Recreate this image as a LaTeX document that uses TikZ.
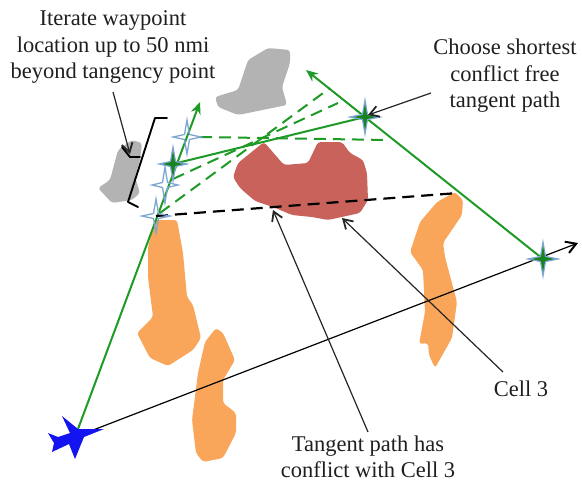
\documentclass[tikz,border=0pt]{standalone}
\usepackage{fontspec}
\setmainfont{Liberation Serif}
\usetikzlibrary{arrows.meta}
\definecolor{gblob}{HTML}{B3B3B3}
\definecolor{rblob}{HTML}{C8625A}
\definecolor{oblob}{HTML}{F9A55A}
\definecolor{pathgreen}{HTML}{1E9A26}
\definecolor{starblue}{HTML}{7FA6D2}
\definecolor{planeblue}{HTML}{1414F0}
\tikzset{
  x=1pt,y=-1pt,
  cellblob/.style={fill=#1,draw=none,rounded corners=3pt},
  greenline/.style={draw=pathgreen,line width=2pt},
  greenarrow/.style={greenline,-{Stealth[length=12pt,width=10pt]}},
  greendash/.style={draw=pathgreen,line width=2pt,dash pattern=on 12pt off 7pt},
  blackdash/.style={draw=black,line width=2.2pt,dash pattern=on 12pt off 7pt},
  callout/.style={draw=black!85,line width=1.2pt,-{Straight Barb[length=9pt,width=11pt,line width=1.8pt]}},
  labeltext/.style={font=\fontsize{22.5}{26.5}\selectfont,align=center,text=black!88,inner sep=0pt},
}
\newcommand{\fourstar}[4]{% centre x, y, half-width, half-height
  \path[draw=starblue,line width=1.3pt]
    (#1-#3,#2) -- (#1-2.5,#2-2.5) -- (#1,#2-#4) -- (#1+2.5,#2-2.5) -- (#1+#3,#2)
    -- (#1+2.5,#2+2.5) -- (#1,#2+#4) -- (#1-2.5,#2+2.5) -- cycle;}
\newcommand{\solidstar}[4]{%
  \path[fill=starblue,draw=starblue,line width=1.2pt]
    (#1-#3,#2) -- (#1-2.5,#2-2.5) -- (#1,#2-#4) -- (#1+2.5,#2-2.5) -- (#1+#3,#2)
    -- (#1+2.5,#2+2.5) -- (#1,#2+#4) -- (#1-2.5,#2+2.5) -- cycle;
  \path[fill=pathgreen!85!black]
    (#1-#3+4,#2) -- (#1-2,#2-2) -- (#1,#2-#4+4) -- (#1+2,#2-2) -- (#1+#3-4,#2)
    -- (#1+2,#2+2) -- (#1,#2+#4-4) -- (#1-2,#2+2) -- cycle;}
\begin{document}
\begin{tikzpicture}
\useasboundingbox (0,0) rectangle (582,485);
% weather cells
\path[cellblob=gblob] (268,48) -- (290,50) -- (290,63) -- (282,87) -- (287,105) -- (238,115) -- (218,107) -- (215,97) -- (238,90) -- (248,60) -- cycle;
\path[cellblob=gblob] (132,140) -- (142,143) -- (140,160) -- (135,177) -- (140,193) -- (132,200) -- (112,203) -- (98,188) -- (110,180) -- (118,150) -- cycle;
\path[cellblob=rblob] (264,142) -- (284,165) -- (308,163) -- (318,142) -- (342,142) -- (350,153) -- (363,160) -- (367,173) -- (368,200) -- (360,213) -- (328,220) -- (312,217) -- (292,215) -- (273,207) -- (255,201) -- (240,188) -- (233,177) -- (238,163) -- cycle;
\path[cellblob=oblob] (155,220) -- (177,220) -- (183,253) -- (187,297) -- (193,305) -- (201,338) -- (193,350) -- (168,366) -- (150,358) -- (137,333) -- (153,317) -- (148,277) -- (148,247) -- cycle;
\path[cellblob=oblob] (216,328) -- (223,333) -- (235,360) -- (223,380) -- (223,403) -- (236,413) -- (236,433) -- (223,458) -- (203,462) -- (196,453) -- (192,420) -- (198,373) -- (205,342) -- cycle;
\path[cellblob=oblob] (455,192) -- (463,200) -- (462,215) -- (443,243) -- (445,257) -- (457,302) -- (452,338) -- (435,368) -- (429,355) -- (428,343) -- (419,344) -- (425,312) -- (423,270) -- (410,252) -- (420,222) -- (437,202) -- cycle;
% named points
\coordinate (plane) at (75,437);
\coordinate (ahead) at (200,102);
\coordinate (east) at (578,243);
\coordinate (wpa) at (187,137);
\coordinate (wpb) at (173,164);
\coordinate (wpc) at (165,185);
\coordinate (wpd) at (156,216);
\coordinate (tan) at (365,117);
\coordinate (far) at (543,259);
\coordinate (nw) at (306,70);
\coordinate (cella) at (388,140);
\coordinate (cellb) at (338,103);
\coordinate (cellc) at (330,88);
\coordinate (cellend) at (458,193);
% paths
\draw[draw=black,line width=1.2pt,-{Straight Barb[length=10pt,width=12pt,line width=2pt]}] (plane) -- (east);
\draw[greenarrow] (plane) -- (ahead);
\draw[greenarrow] (far) -- (nw);
\draw[greenline] (wpb) -- (tan);
\draw[greendash] (wpa) ++(13,0) -- (cella);
\draw[greendash] (wpc) ++(8,-6) -- (cellb);
\draw[greendash] (wpd) ++(4,-3) -- (cellc);
\draw[blackdash] (wpd) -- (cellend);
% bracket
\coordinate (bra) at (167,118);
\coordinate (brb) at (155,118);
\coordinate (brc) at (128,202);
\coordinate (brd) at (138,207);
\coordinate (tia) at (122,147);
\coordinate (tib) at (130,157);
\coordinate (tic) at (140,157);
\draw[line width=1.9pt,line join=round,line cap=round] (bra) -- (brb) -- (brc) -- (brd);
\draw[line width=1.9pt,line join=round,line cap=round] (tia) -- (tib) -- (tic);
% waypoint markers
\fourstar{187}{137}{14}{17}
\fourstar{165}{185}{13}{18}
\fourstar{156}{216}{14}{17}
\solidstar{173}{164}{14}{17}
\solidstar{365}{117}{15}{17}
\solidstar{543}{259}{15}{17}
% plane
\path[fill=planeblue] (104,429) -- (84,437) -- (75,459) -- (69,444) -- (52,452) -- (54,443) -- (48,433) -- (58,437) -- (70,433) -- (62,416) -- (78,429) -- cycle;
% labels
\node[labeltext] (iter) at (113,47) {Iterate waypoint\\location up to 50 nmi\\beyond tangency point};
\node[labeltext] (choose) at (505,76) {Choose shortest\\conflict free\\tangent path};
\node[labeltext] (cellthree) at (521,389) {Cell 3};
\node[labeltext] (conflict) at (368,457) {Tangent path has\\conflict with Cell 3};
% callouts
\coordinate (itera) at (113,92);
\coordinate (iterb) at (130,154);
\coordinate (choa) at (431,93);
\coordinate (chob) at (368,115);
\coordinate (cea) at (503,372);
\coordinate (ceb) at (342,218);
\coordinate (cona) at (368,432);
\coordinate (conb) at (273,210);
\draw[callout] (itera) -- (iterb);
\draw[callout] (choa) -- (chob);
\draw[callout] (cea) -- (ceb);
\draw[callout] (cona) -- (conb);
\end{tikzpicture}
\end{document}
